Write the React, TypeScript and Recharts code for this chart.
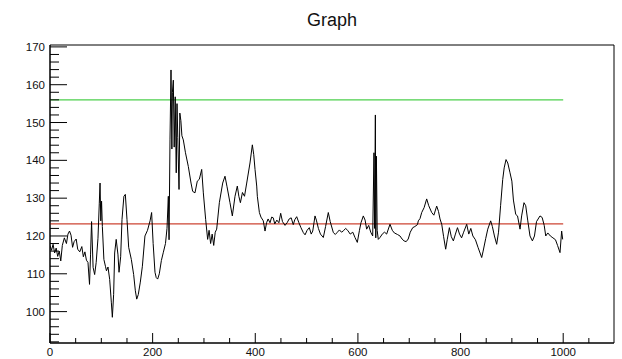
import { LineChart, Line, XAxis, YAxis, ReferenceLine, ReferenceArea } from "recharts";

// readings of the ROOT graph (x = entry index, y = value)
const xs = [
  0, 3, 6, 9, 12, 15, 18, 21, 24, 28, 32, 35, 38, 41, 44, 47, 51, 54, 58, 62, 65, 68, 71, 74, 77, 79, 81, 84, 87, 90,
  93.5, 96, 97.5, 99, 100.5, 102, 105, 108, 110, 113, 116.3, 119.5, 121.5, 124, 126, 129, 132.5, 134.5, 137.7, 140.3,
  144, 146.8, 150, 153.3, 158.5, 163, 166.3, 169, 172, 176, 180, 185, 190, 195, 198, 201, 204.6, 207, 209.8, 213,
  217, 220.9, 225, 228, 230.6, 232, 233.8, 235.8, 237.5, 238.5, 240.3, 242, 244, 246, 247.5, 249, 251.4, 253, 255, 257,
  259.8, 264, 269.5, 274.8, 278, 282.5, 287, 291, 295.6, 298.8, 303.3, 307.2, 310, 313, 316, 319, 322, 324.8, 330, 336.5,
  341, 345, 350.7, 355.3, 360.5, 365, 368, 371, 375, 379, 383.3, 389.7, 394.3, 397, 399.5, 402.8, 404, 408, 411, 415.6,
  419, 422, 425, 428.7, 432, 435, 438, 442, 446, 449.5, 453, 458, 462, 466, 470, 474, 477, 480.7, 485, 489,
  493.6, 497, 501, 505.3, 509, 512, 516.4, 519, 523, 527, 532.6, 537, 542.3, 546, 552.1, 556, 560, 564, 568, 572,
  576, 580, 585, 590, 594.3, 598.8, 603, 606, 610.5, 614, 617, 621, 625, 628.8, 631.3, 632.5, 634, 634.8, 636, 637.5,
  639.7, 643, 648, 652, 656, 662.5, 667, 671, 677, 682, 686, 689.9, 694, 698, 702, 706.8, 711, 716, 717.7, 721,
  724.3, 729, 734, 738, 743.8, 748, 753.5, 757, 760, 763.3, 767, 771, 774, 778.2, 782, 786, 790, 794, 798, 802,
  806, 812, 816, 820, 824, 829, 834, 838, 841.2, 844, 849, 853, 858.7, 862, 866, 870.4, 874, 878, 882.1, 885,
  888.6, 892, 896.4, 900, 903, 907.5, 911, 915.9, 919, 923.6, 927, 931, 935.3, 940, 944, 948, 954.8, 959, 963, 966,
  970, 975, 980, 985, 989, 993.8, 997, 999,
];
const ys = [
  117.5, 116.2, 117.8, 115.5, 116.8, 114.6, 116.0, 113.4, 117.5, 119.5, 118.0, 120.5, 121.3, 120.2, 117.0, 118.5, 119.2, 116.5, 115.8, 117.2, 114.5, 115.8, 113.6, 113.0, 107.2, 115.0, 123.8, 111.7, 109.8, 113.0,
  119.4, 128.5, 134.0, 124.0, 129.2, 122.5, 113.8, 112.0, 110.8, 111.8, 108.5, 102.5, 98.5, 104.5, 115.5, 119.1, 115.0, 110.4, 114.5, 124.4,
  130.5, 131.0, 124.4, 117.0, 113.8, 109.8, 105.5, 103.3, 104.5, 107.8, 112.0, 120.0, 121.5, 124.0, 126.2, 118.0, 110.4, 109.0, 108.6, 110.0,
  113.5, 115.7, 118.0, 122.0, 130.5, 119.0, 145.4, 163.9, 143.0, 158.0, 161.2, 143.5, 156.8, 136.7, 155.0, 146.0, 132.3, 152.5, 150.5, 146.5,
  145.4, 142.0, 138.4, 134.0, 131.8, 131.4, 134.5, 135.0, 137.6, 131.4, 124.4, 119.1, 121.5, 118.0, 120.5, 117.5, 121.0, 121.8, 128.8, 134.0,
  135.8, 133.0, 128.8, 125.3, 130.5, 133.2, 130.5, 128.8, 131.5, 130.5, 134.0, 139.3, 144.1, 141.5, 137.6, 133.2, 130.5, 126.2, 125.0, 124.0,
  121.3, 123.5, 124.5, 123.5, 125.0, 124.8, 123.2, 124.2, 123.5, 126.0, 123.8, 122.8, 123.5, 124.5, 124.8, 123.0, 124.3, 125.1, 123.5, 122.2,
  120.9, 120.3, 121.5, 122.2, 120.5, 121.3, 125.3, 124.2, 122.0, 120.5, 119.6, 122.5, 126.2, 123.8, 120.9, 120.4, 121.0, 121.6, 121.0, 121.4,
  122.0, 121.5, 120.5, 121.0, 119.6, 118.3, 121.5, 123.5, 125.3, 124.2, 121.8, 122.8, 121.0, 120.0, 142.0, 122.0, 152.0, 119.5, 141.1, 121.5,
  119.1, 119.6, 120.6, 121.0, 120.5, 123.1, 121.5, 120.8, 120.4, 120.0, 119.2, 118.7, 118.5, 119.2, 121.0, 122.2, 122.5, 123.0, 124.0, 124.6,
  126.2, 127.5, 129.8, 128.0, 126.2, 125.5, 127.9, 126.5, 124.5, 123.1, 119.8, 116.5, 119.0, 122.2, 119.8, 118.7, 120.5, 122.2, 120.5, 119.5,
  121.0, 123.1, 120.5, 122.0, 120.0, 119.0, 117.0, 115.5, 114.3, 116.0, 119.3, 121.8, 124.0, 122.5, 120.0, 117.8, 121.0, 128.0, 134.9, 138.0,
  140.2, 139.3, 136.7, 134.5, 129.5, 125.7, 125.3, 121.8, 125.3, 128.8, 128.0, 124.0, 120.0, 118.7, 120.0, 123.8, 125.3, 124.9, 122.8, 120.0,
  120.8, 120.0, 119.5, 119.0, 117.5, 115.6, 121.3, 119.1,
];

const upperLevel = 156;
const meanLevel = 123.2;
const levelStart = 0;
const levelEnd = 1000;

const xDomain = [0, 1099];
const yDomain = [91.7, 170.5];
const xTicks = [0, 50, 100, 150, 200, 250, 300, 350, 400, 450, 500, 550, 600, 650, 700, 750, 800, 850, 900, 950, 1000, 1050];
const xLabels = [0, 200, 400, 600, 800, 1000];
const yTicks = [
  92, 94, 96, 98, 100, 102, 104, 106, 108, 110, 112, 114, 116, 118, 120, 122, 124, 126, 128, 130,
  132, 134, 136, 138, 140, 142, 144, 146, 148, 150, 152, 154, 156, 158, 160, 162, 164, 166, 168, 170,
];
const yLabels = [100, 110, 120, 130, 140, 150, 160, 170];

const data = xs.map((x, i) => ({ x, y: ys[i] }));

const W = 622;
const H = 359;
const LEFT = 50;
const BOTTOM = 343;
const font = "'Liberation Sans', Arial, sans-serif";

function YTick(props: any) {
  const { y, payload } = props;
  const v = payload.value;
  const major = yLabels.includes(v);
  return (
    <g>
      <line x1={LEFT} x2={LEFT + (major ? 17 : 9)} y1={y} y2={y} stroke="#000" strokeWidth={1} />
      {major && (
        <text x={LEFT - 5} y={y} textAnchor="end" dominantBaseline="central" fontSize={11.5} fill="#111" fontFamily={font}>
          {v}
        </text>
      )}
    </g>
  );
}

function XTick(props: any) {
  const { x, payload } = props;
  const v = payload.value;
  const major = xLabels.includes(v);
  return (
    <g>
      <line x1={x} x2={x} y1={BOTTOM} y2={BOTTOM - (major ? 10 : 5)} stroke="#000" strokeWidth={1} />
      {major && (
        <text x={x} y={BOTTOM + 9} textAnchor="middle" dominantBaseline="central" fontSize={11.5} fill="#111" fontFamily={font}>
          {v}
        </text>
      )}
    </g>
  );
}

export default function App() {
  return (
    <div style={{ position: "absolute", left: 0, top: 0, width: W, height: H, background: "#fff" }}>
      <div
        style={{
          position: "absolute",
          left: 0,
          width: 664,
          top: 10,
          textAlign: "center",
          fontFamily: font,
          fontSize: 18,
          color: "#111",
        }}
      >
        Graph
      </div>
      <LineChart width={W} height={H} data={data} margin={{ top: 45, right: 8, bottom: 0, left: 0 }}>
        <XAxis
          dataKey="x"
          type="number"
          domain={xDomain}
          allowDataOverflow
          ticks={xTicks}
          interval={0}
          tick={(p: any) => <XTick {...p} />}
          tickLine={false}
          axisLine={{ stroke: "#000" }}
          height={16}
        />
        <YAxis
          type="number"
          domain={yDomain}
          allowDataOverflow
          ticks={yTicks}
          interval={0}
          tick={(p: any) => <YTick {...p} />}
          tickLine={false}
          axisLine={{ stroke: "#000" }}
          width={50}
        />
        <ReferenceArea
          x1={xDomain[0]}
          x2={xDomain[1]}
          y1={yDomain[0]}
          y2={yDomain[1]}
          fill="none"
          fillOpacity={0}
          stroke="#000"
          strokeWidth={1}
          ifOverflow="visible"
        />
        <ReferenceLine
          segment={[{ x: levelStart, y: upperLevel }, { x: levelEnd, y: upperLevel }]}
          stroke="#4ccf4c"
          strokeWidth={1.2}
        />
        <ReferenceLine
          segment={[{ x: levelStart, y: meanLevel }, { x: levelEnd, y: meanLevel }]}
          stroke="#cc4433"
          strokeWidth={1.2}
        />
        <Line type="linear" dataKey="y" stroke="#000" strokeWidth={1} dot={false} isAnimationActive={false} />
      </LineChart>
    </div>
  );
}
